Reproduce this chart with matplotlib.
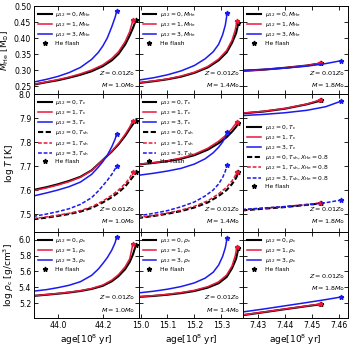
import numpy as np
import matplotlib
matplotlib.use('Agg')
import matplotlib.pyplot as plt
from matplotlib.lines import Line2D

# ---------------- data ----------------
# Column 1: M = 1.0 Msun
age1_mu0 = [43.89, 43.95, 44.00, 44.05, 44.10, 44.15, 44.20, 44.24, 44.27, 44.30, 44.32, 44.335, 44.347]
age1_mu1 = [43.89, 43.95, 44.00, 44.05, 44.10, 44.15, 44.20, 44.24, 44.27, 44.30, 44.32, 44.334]
age1_mu3 = [43.89, 43.95, 44.00, 44.05, 44.10, 44.15, 44.18, 44.20, 44.22, 44.24, 44.255, 44.262]
mhe1_mu0 = [0.254, 0.262, 0.268, 0.276, 0.285, 0.296, 0.312, 0.330, 0.350, 0.380, 0.408, 0.432, 0.455]
mhe1_mu1 = [0.255, 0.263, 0.270, 0.278, 0.288, 0.300, 0.316, 0.336, 0.357, 0.389, 0.420, 0.455]
mhe1_mu3 = [0.262, 0.271, 0.280, 0.292, 0.308, 0.333, 0.355, 0.375, 0.400, 0.435, 0.465, 0.483]
tc1_mu0 = [7.600, 7.612, 7.624, 7.638, 7.655, 7.682, 7.725, 7.760, 7.790, 7.826, 7.855, 7.875, 7.888]
tc1_mu1 = [7.597, 7.609, 7.621, 7.635, 7.653, 7.681, 7.725, 7.762, 7.794, 7.832, 7.862, 7.888]
tc1_mu3 = [7.575, 7.588, 7.600, 7.614, 7.633, 7.665, 7.695, 7.718, 7.745, 7.780, 7.812, 7.835]
tsh1_mu0 = [7.478, 7.485, 7.492, 7.500, 7.510, 7.525, 7.548, 7.570, 7.590, 7.615, 7.638, 7.656, 7.673]
tsh1_mu1 = [7.481, 7.488, 7.495, 7.503, 7.514, 7.530, 7.554, 7.578, 7.600, 7.627, 7.650, 7.676]
tsh1_mu3 = [7.490, 7.500, 7.510, 7.522, 7.540, 7.568, 7.596, 7.618, 7.640, 7.665, 7.688, 7.702]
rho1_mu0 = [5.290, 5.305, 5.318, 5.333, 5.352, 5.378, 5.418, 5.475, 5.540, 5.630, 5.720, 5.820, 5.930]
rho1_mu1 = [5.292, 5.307, 5.321, 5.337, 5.357, 5.384, 5.428, 5.490, 5.560, 5.660, 5.760, 5.945]
rho1_mu3 = [5.350, 5.370, 5.395, 5.425, 5.470, 5.550, 5.630, 5.700, 5.775, 5.870, 5.965, 6.040]

# Column 2: M = 1.4 Msun
age2_mu0 = [14.99, 15.05, 15.10, 15.15, 15.20, 15.25, 15.29, 15.32, 15.34, 15.355, 15.364]
age2_mu1 = [14.99, 15.05, 15.10, 15.15, 15.20, 15.25, 15.29, 15.32, 15.34, 15.352, 15.358]
age2_mu3 = [14.99, 15.05, 15.10, 15.15, 15.20, 15.24, 15.27, 15.29, 15.305, 15.315, 15.322]
mhe2_mu0 = [0.259, 0.265, 0.271, 0.279, 0.291, 0.308, 0.330, 0.355, 0.385, 0.415, 0.448]
mhe2_mu1 = [0.260, 0.266, 0.272, 0.281, 0.293, 0.311, 0.334, 0.361, 0.393, 0.425, 0.452]
mhe2_mu3 = [0.268, 0.276, 0.285, 0.297, 0.314, 0.335, 0.357, 0.380, 0.410, 0.440, 0.478]
tc2_mu0 = [7.706, 7.713, 7.720, 7.730, 7.745, 7.768, 7.795, 7.820, 7.843, 7.863, 7.880]
tc2_mu1 = [7.707, 7.714, 7.722, 7.733, 7.749, 7.774, 7.803, 7.831, 7.856, 7.874, 7.884]
tc2_mu3 = [7.661, 7.670, 7.679, 7.690, 7.708, 7.730, 7.755, 7.778, 7.800, 7.820, 7.842]
tsh2_mu0 = [7.483, 7.492, 7.501, 7.512, 7.527, 7.548, 7.575, 7.600, 7.625, 7.650, 7.673]
tsh2_mu1 = [7.485, 7.494, 7.504, 7.516, 7.532, 7.555, 7.584, 7.612, 7.638, 7.660, 7.677]
tsh2_mu3 = [7.492, 7.503, 7.514, 7.530, 7.550, 7.575, 7.600, 7.625, 7.652, 7.678, 7.706]
rho2_mu0 = [5.276, 5.290, 5.305, 5.325, 5.352, 5.395, 5.450, 5.530, 5.640, 5.760, 5.898]
rho2_mu1 = [5.279, 5.294, 5.310, 5.332, 5.361, 5.407, 5.468, 5.555, 5.670, 5.800, 5.910]
rho2_mu3 = [5.327, 5.350, 5.375, 5.408, 5.455, 5.515, 5.590, 5.680, 5.790, 5.900, 6.025]

# Column 3: M = 1.8 Msun
age3_mu0 = [7.424, 7.432, 7.440, 7.448, 7.4533]
age3_mu1 = [7.424, 7.432, 7.440, 7.448, 7.4528]
age3_mu3 = [7.424, 7.432, 7.440, 7.448, 7.455, 7.4607]
mhe3_mu0 = [0.297, 0.301, 0.307, 0.314, 0.321]
mhe3_mu1 = [0.297, 0.301, 0.307, 0.314, 0.321]
mhe3_mu3 = [0.299, 0.302, 0.306, 0.312, 0.320, 0.329]
tc3_mu0 = [7.919, 7.927, 7.939, 7.957, 7.973]
tc3_mu1 = [7.920, 7.928, 7.940, 7.958, 7.975]
tc3_mu3 = [7.910, 7.915, 7.922, 7.932, 7.947, 7.970]
tsh3_mu0 = [7.515, 7.522, 7.529, 7.538, 7.544]
tsh3_mu1 = [7.517, 7.524, 7.531, 7.540, 7.546]
tsh3_mu3 = [7.519, 7.525, 7.531, 7.538, 7.547, 7.558]
rho3_mu0 = [5.045, 5.083, 5.122, 5.160, 5.184]
rho3_mu1 = [5.048, 5.086, 5.125, 5.163, 5.187]
rho3_mu3 = [5.086, 5.124, 5.165, 5.206, 5.243, 5.276]

masses = ['1.0', '1.4', '1.8']
mu_values = [0, 1, 3]
xticks = [[44.0, 44.2], [15.0, 15.1, 15.2, 15.3], [7.43, 7.44, 7.45, 7.46]]
xlims = [(43.893, 44.36), (14.993, 15.382), (7.4244, 7.4633)]
yticks = [[0.25, 0.30, 0.35, 0.40, 0.45, 0.50], [7.5, 7.6, 7.7, 7.8, 7.9, 8.0],
          [5.2, 5.4, 5.6, 5.8, 6.0]]
ylims = [(0.225, 0.50), (7.425, 8.0), (5.01, 6.1)]
ylabels = [r'$M_{\rm He}$ [M$_{\odot}$]', r'log $T$ [K]', r'log $\rho_{\rm c}$ [g/cm$^3$]']

colors = ['black', '#e8173a', '#1a1aee']
lws = [1.5, 1.1, 1.1]

ages = [[age1_mu0, age1_mu1, age1_mu3], [age2_mu0, age2_mu1, age2_mu3], [age3_mu0, age3_mu1, age3_mu3]]
mhe = [[mhe1_mu0, mhe1_mu1, mhe1_mu3], [mhe2_mu0, mhe2_mu1, mhe2_mu3], [mhe3_mu0, mhe3_mu1, mhe3_mu3]]
tc = [[tc1_mu0, tc1_mu1, tc1_mu3], [tc2_mu0, tc2_mu1, tc2_mu3], [tc3_mu0, tc3_mu1, tc3_mu3]]
tsh = [[tsh1_mu0, tsh1_mu1, tsh1_mu3], [tsh2_mu0, tsh2_mu1, tsh2_mu3], [tsh3_mu0, tsh3_mu1, tsh3_mu3]]
rho = [[rho1_mu0, rho1_mu1, rho1_mu3], [rho2_mu0, rho2_mu1, rho2_mu3], [rho3_mu0, rho3_mu1, rho3_mu3]]

# ---------------- figure ----------------
fig = plt.figure(figsize=(3.53, 3.47), dpi=100)
gs = fig.add_gridspec(3, 3, left=34/353, right=348/353, top=1-6/347, bottom=1-318/347,
                      hspace=0, wspace=0, height_ratios=[88, 138, 86])
axes = np.empty((3, 3), dtype=object)
for r in range(3):
    for c in range(3):
        kw = {}
        if r > 0:
            kw['sharex'] = axes[0, c]
        if c > 0:
            kw['sharey'] = axes[r, 0]
        axes[r, c] = fig.add_subplot(gs[r, c], **kw)

leg_fs = 4.3
leg_kw = dict(frameon=False, fontsize=leg_fs, handlelength=2.3, labelspacing=0.2,
              borderaxespad=0.3, handletextpad=0.6, borderpad=0.35)
star_handle = Line2D([], [], ls='none', marker='*', color='black', ms=3.5, label='He flash')

for c in range(3):
    # row 0: M_He
    ax = axes[0, c]
    handles = []
    for k in range(3):
        h, = ax.plot(ages[c][k], mhe[c][k], color=colors[k], lw=lws[k],
                     label=r'$\mu_{12}=%d, M_{\rm He}$' % mu_values[k])
        ax.plot(ages[c][k][-1], mhe[c][k][-1], marker='*', color=colors[k], ms=3.5, ls='none')
        handles.append(h)
    ax.legend(handles=handles + [star_handle], loc='upper left', **leg_kw)

    # row 1: T_c, T_sh
    ax = axes[1, c]
    handles = []
    for k in range(3):
        h, = ax.plot(ages[c][k], tc[c][k], color=colors[k], lw=lws[k],
                     label=r'$\mu_{12}=%d, T_{\rm c}$' % mu_values[k])
        ax.plot(ages[c][k][-1], tc[c][k][-1], marker='*', color=colors[k], ms=3.5, ls='none')
        handles.append(h)
    for k in range(3):
        if c == 2:
            lab = r'$\mu_{12}=%d, T_{\rm sh}, X_{\rm He}=0.8$' % mu_values[k]
        else:
            lab = r'$\mu_{12}=%d, T_{\rm sh}$' % mu_values[k]
        h, = ax.plot(ages[c][k], tsh[c][k], color=colors[k], lw=lws[k], ls=(0, (2.5, 1.2)), label=lab)
        ax.plot(ages[c][k][-1], tsh[c][k][-1], marker='*', color=colors[k], ms=3.5, ls='none')
        handles.append(h)
    if c == 2:
        ax.legend(handles=handles + [star_handle], loc='upper left', bbox_to_anchor=(0.0, 0.82),
                  **leg_kw)
    else:
        ax.legend(handles=handles + [star_handle], loc='upper left', **leg_kw)

    # row 2: rho_c
    ax = axes[2, c]
    handles = []
    for k in range(3):
        h, = ax.plot(ages[c][k], rho[c][k], color=colors[k], lw=lws[k],
                     label=r'$\mu_{12}=%d, \rho_{\rm c}$' % mu_values[k])
        ax.plot(ages[c][k][-1], rho[c][k][-1], marker='*', color=colors[k], ms=3.5, ls='none')
        handles.append(h)
    ax.legend(handles=handles + [star_handle], loc='upper left', **leg_kw)

# annotations
for r in range(3):
    for c in range(3):
        ax = axes[r, c]
        txt = r'$Z=0.01Z_{\odot}$' + '\n' + r'$M=%sM_{\odot}$' % masses[c]
        ypos = 0.04
        if r == 2 and c == 2:
            ypos = 0.29
        ax.text(0.97, ypos, txt, transform=ax.transAxes, ha='right', va='bottom',
                fontsize=4.6, linespacing=1.6)

for r in range(3):
    for c in range(3):
        ax = axes[r, c]
        ax.set_xlim(*xlims[c])
        ax.set_ylim(*ylims[r])
        ax.set_xticks(xticks[c])
        ax.set_yticks(yticks[r])
        ax.tick_params(direction='in', top=True, right=True, length=3, width=0.6,
                       labelsize=5.6, pad=2)
        for sp in ax.spines.values():
            sp.set_linewidth(0.7)
        if r < 2:
            ax.tick_params(labelbottom=False)
        else:
            ax.set_xlabel(r'age[10$^8$ yr]', fontsize=6.5, labelpad=2)
        if c > 0:
            ax.tick_params(labelleft=False)
        else:
            ax.set_ylabel(ylabels[r], fontsize=6.5, labelpad=2)
            if r == 0:
                ax.set_yticklabels(['%.2f' % t for t in yticks[r]])
            else:
                ax.set_yticklabels(['%.1f' % t for t in yticks[r]])
for c in range(3):
    fmt = '%.2f' if c == 2 else '%.1f'
    axes[2, c].set_xticklabels([fmt % t for t in xticks[c]])

fig.savefig('out.png', dpi=100)
